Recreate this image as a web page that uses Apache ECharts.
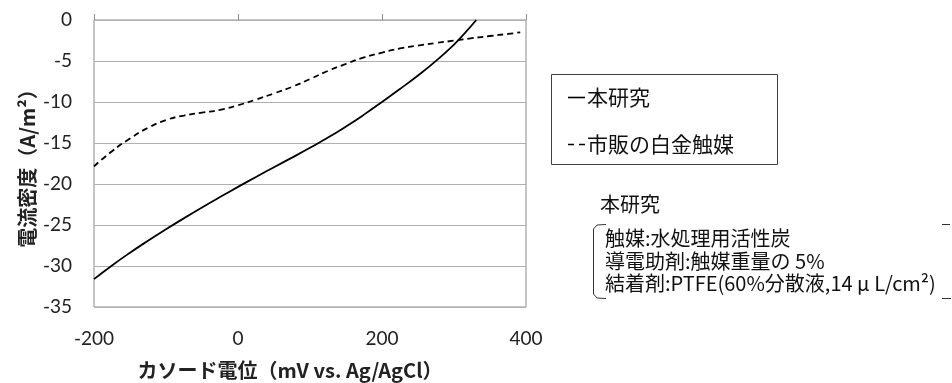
<!DOCTYPE html>
<html>
<head>
<meta charset="utf-8">
<script src="https://cdn.jsdelivr.net/npm/echarts@6/dist/echarts.min.js"></script>
<style>
html,body{margin:0;padding:0;background:#fff;}
#chart{width:952px;height:383px;}
</style>
</head>
<body>
<div id="chart"></div>
<script>
// ---- data ----
var seriesNames = ['本研究', '市販の白金触媒'];
var solidX = [-200, -175, -150, -125, -100, -75, -50, -25, 0, 25, 50, 75, 100, 125, 150, 175, 200, 225, 250, 275, 300, 315, 331];
var solidY = [-31.6, -29.93, -28.38, -26.92, -25.52, -24.17, -22.86, -21.59, -20.35, -19.14, -17.95, -16.78, -15.59, -14.34, -12.99, -11.54, -10.0, -8.41, -6.77, -4.99, -3.0, -1.6, 0];
var dashX = [-200, -175, -150, -125, -100, -75, -50, -25, 0, 25, 50, 75, 100, 125, 150, 175, 200, 225, 250, 275, 300, 325, 350, 375, 392];
var dashY = [-17.85, -16.0, -14.45, -13.15, -12.2, -11.65, -11.3, -10.95, -10.4, -9.7, -8.95, -8.15, -7.2, -6.2, -5.35, -4.57, -3.98, -3.47, -3.12, -2.8, -2.52, -2.22, -1.95, -1.7, -1.5];
var xTicks = [-200, 0, 200, 400];
var yTicks = [0, -5, -10, -15, -20, -25, -30, -35];
var xTitle = 'カソード電位（mV vs. Ag/AgCl）';
var yTitle = '電流密度（A/m²）';
var noteTitle = '本研究';
var noteLines = ['触媒:水処理用活性炭', '導電助剤:触媒重量の 5%', '結着剤:PTFE(60%分散液,14 μ L/cm²)'];

function pairs(xs, ys) { return xs.map(function (x, i) { return [x, ys[i]]; }); }

var chart = echarts.init(document.getElementById('chart'));
var numFont = 'Lato, "Open Sans", sans-serif';
var cjkFont = '"Noto Sans CJK JP", sans-serif';

chart.setOption({
  animation: false,
  grid: {
    left: 94, right: 426, top: 20, bottom: 76,
    show: true, borderColor: '#8c8c8c', borderWidth: 1,
    outerBoundsMode: 'none', containLabel: false
  },
  xAxis: {
    type: 'value', min: xTicks[0], max: xTicks[xTicks.length - 1], interval: 200,
    axisLine: { show: false },
    axisTick: { show: true, inside: true, length: 6, lineStyle: { color: '#8c8c8c' } },
    splitLine: { show: false },
    axisLabel: { fontSize: 19, color: '#222', fontFamily: numFont, margin: 22 },
    name: xTitle, nameLocation: 'middle', nameGap: 53,
    nameTextStyle: { fontSize: 20, fontWeight: 'bold', color: '#222', fontFamily: cjkFont, padding: [0, 40, 0, 0] }
  },
  yAxis: {
    type: 'value', min: yTicks[yTicks.length - 1], max: yTicks[0], interval: 5,
    axisLine: { show: false },
    axisTick: { show: false },
    splitLine: { show: true, lineStyle: { color: '#b0b0b0', width: 1 } },
    axisLabel: { fontSize: 19, color: '#222', fontFamily: numFont, margin: 22 },
    name: yTitle, nameLocation: 'middle', nameGap: 57, nameRotate: 90,
    nameTextStyle: { fontSize: 20, fontWeight: 'bold', color: '#222', fontFamily: cjkFont }
  },
  legend: {
    left: 563, top: 82, orient: 'vertical', itemGap: 26,
    itemWidth: 17, itemHeight: 2,
    textStyle: { fontSize: 21, color: '#111', fontFamily: cjkFont, padding: [0, 0, 0, -3] },
    data: [
      { name: seriesNames[0], icon: 'path://M0 0H17V1.6H0Z' },
      { name: seriesNames[1], icon: 'path://M0 0H6V1.6H0Z M11 0H17V1.6H11Z' }
    ]
  },
  series: [
    {
      name: seriesNames[0], type: 'line', smooth: 0.5, symbol: 'none',
      lineStyle: { color: '#000', width: 1.8, type: 'solid' },
      itemStyle: { color: '#000' },
      data: pairs(solidX, solidY)
    },
    {
      name: seriesNames[1], type: 'line', smooth: 0.5, symbol: 'none',
      lineStyle: { color: '#000', width: 1.8, type: [6, 4] },
      itemStyle: { color: '#000' },
      data: pairs(dashX, dashY)
    }
  ],
  graphic: [
    { type: 'rect', shape: { x: 551.5, y: 74.5, width: 226, height: 90 }, style: { fill: 'none', stroke: '#404040', lineWidth: 1 }, z: 1 },
    { type: 'text', x: 600, y: 204, style: { text: noteTitle, fill: '#111', font: '20px ' + cjkFont, verticalAlign: 'middle' } },
    { type: 'text', x: 605, y: 238, style: { text: noteLines[0], fill: '#111', font: '20px ' + cjkFont, verticalAlign: 'middle' } },
    { type: 'text', x: 605, y: 261, style: { text: noteLines[1], fill: '#111', font: '20px ' + cjkFont, verticalAlign: 'middle' } },
    { type: 'text', x: 605, y: 283, style: { text: noteLines[2], fill: '#111', font: '20px ' + cjkFont, verticalAlign: 'middle' } },
    { type: 'polyline', shape: { points: [[606, 224.5], [597, 225], [593.5, 229], [593.5, 294], [597, 298], [606, 298.5]] }, style: { stroke: '#333', lineWidth: 1, fill: 'none' } },
    { type: 'polyline', shape: { points: [[942, 224.5], [950, 224.5]] }, style: { stroke: '#333', lineWidth: 1, fill: 'none' } },
    { type: 'polyline', shape: { points: [[942, 298.5], [951, 298.5]] }, style: { stroke: '#333', lineWidth: 1, fill: 'none' } }
  ]
});
</script>
</body>
</html>
